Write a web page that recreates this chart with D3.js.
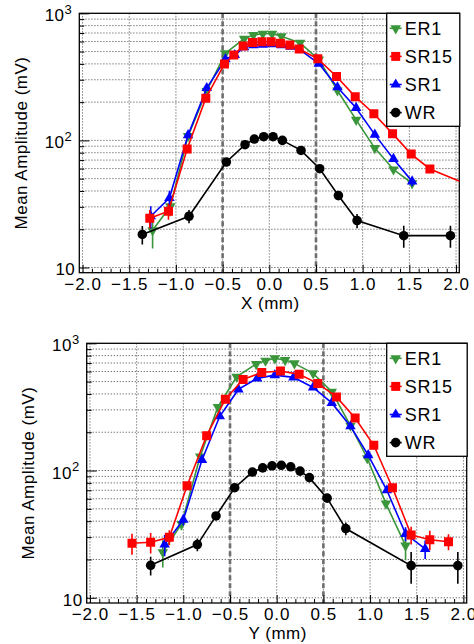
<!DOCTYPE html>
<html>
<head>
<meta charset="utf-8">
<title>Mean amplitude scans</title>
<script src="https://cdn.jsdelivr.net/npm/d3@7/dist/d3.min.js"></script>
<style>
  body { margin: 0; background: #fff; }
  text { font-family: "Liberation Sans", Arial, sans-serif; }
</style>
</head>
<body>
<script>
// ---- X scan (top pad) ----
var topEr1X   = [-1.25, -1.06, -0.87, -0.67, -0.47, -0.27, -0.17, -0.07, 0.03, 0.13, 0.33, 0.53, 0.73, 0.93, 1.13, 1.33, 1.53];
var topEr1Y   = [19.6, 30.3, 108, 245, 485, 630, 675, 690, 690, 660, 585, 432, 247, 145, 87, 59, 46];
var topEr1Err = [5.5, 5, 3, 0, 0, 0, 0, 0, 0, 0, 0, 0, 0, 0, 2, 2, 4];

var topSr15X   = [-1.28, -1.08, -0.88, -0.68, -0.48, -0.38, -0.28, -0.18, -0.08, 0.02, 0.12, 0.22, 0.32, 0.52, 0.72, 0.92, 1.12, 1.32, 1.52, 1.72, 2.12];
var topSr15Y   = [24.4, 27.7, 85.5, 215, 400, 470, 554, 588, 598, 598, 581, 564, 524, 438, 318, 221, 162, 113, 78, 59.6, 45];
var topSr15Err = [4, 4, 4, 0, 0, 0, 0, 0, 0, 0, 0, 0, 0, 0, 0, 0, 0, 0, 3, 3, 3];

var topSr1X   = [-1.27, -1.07, -0.87, -0.67, -0.47, -0.37, -0.27, -0.17, -0.07, 0.03, 0.13, 0.23, 0.33, 0.53, 0.73, 0.93, 1.13, 1.33, 1.53];
var topSr1Y   = [25.3, 35.2, 110, 258, 435, 470, 540, 560, 565, 570, 560, 545, 515, 402, 262, 180, 111, 71.5, 47.6];
var topSr1Err = [5, 5, 3, 0, 0, 0, 0, 0, 0, 0, 0, 0, 0, 0, 0, 0, 0, 2, 4];

var topWrX   = [-1.36, -0.86, -0.46, -0.26, -0.16, -0.06, 0.04, 0.14, 0.34, 0.54, 0.74, 0.94, 1.44, 1.94];
var topWrY   = [18.2, 25.3, 67.6, 92.5, 102.5, 107, 107, 100, 83.4, 59.9, 36.8, 23.4, 17.8, 17.8];
var topWrErr = [3, 3, 0, 0, 0, 0, 0, 0, 0, 0, 3, 3, 3.5, 3.5];

// ---- Y scan (bottom pad) ----
var botEr1X   = [-1.22, -1.02, -0.82, -0.63, -0.43, -0.22, -0.12, -0.02, 0.09, 0.19, 0.39, 0.59, 0.79, 0.97, 1.17, 1.38];
var botEr1Y   = [22.8, 38, 129, 316, 546, 687, 729, 762, 738, 695, 580, 416, 225, 125, 55, 25.7];
var botEr1Err = [5.5, 4, 0, 0, 0, 0, 0, 0, 0, 0, 0, 0, 0, 0, 4, 6];

var botSr15X   = [-1.55, -1.35, -1.15, -0.96, -0.75, -0.55, -0.36, -0.16, 0.04, 0.24, 0.44, 0.64, 0.84, 1.04, 1.24, 1.44, 1.64, 1.84];
var botSr15Y   = [26.8, 27.3, 29.9, 76, 188, 364, 520, 590, 605, 570, 484, 379, 259, 158, 73.3, 31.2, 28.6, 27.6];
var botSr15Err = [5, 5, 4, 0, 0, 0, 0, 0, 0, 0, 0, 0, 0, 0, 0, 5, 5, 4];

var botSr1X   = [-1.2, -1.0, -0.8, -0.61, -0.41, -0.21, -0.02, 0.18, 0.39, 0.59, 0.79, 0.98, 1.18, 1.38, 1.59];
var botSr1Y   = [26.2, 41, 121, 267, 434, 530, 562, 540, 450, 340, 223, 132, 70, 31.8, 24.2];
var botSr1Err = [5, 4, 0, 0, 0, 0, 0, 0, 0, 0, 0, 0, 0, 4, 4];

var botWrX   = [-1.35, -0.85, -0.65, -0.45, -0.26, -0.15, -0.05, 0.05, 0.15, 0.25, 0.35, 0.54, 0.74, 1.44, 1.94];
var botWrY   = [18, 26.2, 44, 73.3, 97.3, 105, 109, 110, 107, 99, 88, 60.7, 35, 17.9, 17.9];
var botWrErr = [3, 3, 0, 0, 0, 0, 0, 0, 0, 0, 0, 0, 4, 5, 5];

// axes
var xMajorTicks = [-2.0, -1.5, -1.0, -0.5, 0.0, 0.5, 1.0, 1.5, 2.0];
var yMajorTicks = [10, 100, 1000];
var cutLines = [-0.5, 0.5];   // dashed markers

var seriesNames  = ["ER1", "SR15", "SR1", "WR"];
var seriesColors = ["#3a963a", "#ff0000", "#0000ff", "#000000"];
var seriesShapes = ["down", "square", "up", "circle"];

var W = 474, H = 644;
var svg = d3.select("body").append("svg")
    .attr("width", W)
    .attr("height", H);

function makeSeries(xs, ys, es) {
  return xs.map(function(d, i) { return {x: d, y: ys[i], e: es[i]}; });
}

function symbolFor(shape) {
  if (shape == "square") return d3.symbol().type(d3.symbolSquare).size(81)();
  if (shape == "circle") return d3.symbol().type(d3.symbolCircle).size(72)();
  return d3.symbol().type(d3.symbolTriangle).size(48)();
}

function drawPanel(p) {
  var x = d3.scaleLinear().domain([-2.035, 2.035]).range([p.left, p.right]);
  var y = d3.scaleLog().domain([9.1, 1000]).range([p.bottom, p.top]);
  var g = svg.append("g");

  g.append("clipPath").attr("id", p.id + "clip")
    .append("rect")
    .attr("x", p.left).attr("y", p.top)
    .attr("width", p.right - p.left).attr("height", p.bottom - p.top);

  // grid
  var yGrid = [];
  [10, 100].forEach(function(dec) {
    for (var k = 1; k <= 9; k++) yGrid.push(dec * k);
  });
  g.selectAll(".hgrid").data(yGrid).enter().append("line")
    .attr("x1", p.left).attr("x2", p.right)
    .attr("y1", function(d) { return y(d); })
    .attr("y2", function(d) { return y(d); })
    .attr("stroke", "#606060").attr("stroke-width", 1)
    .attr("stroke-dasharray", "1.2,1.8");
  g.selectAll(".vgrid").data(xMajorTicks).enter().append("line")
    .attr("x1", function(d) { return x(d); })
    .attr("x2", function(d) { return x(d); })
    .attr("y1", p.top).attr("y2", p.bottom)
    .attr("stroke", "#606060").attr("stroke-width", 1)
    .attr("stroke-dasharray", "1.2,1.8");

  // dashed lines at +-0.5
  g.selectAll(".cut").data(cutLines).enter().append("line")
    .attr("x1", function(d) { return x(d); })
    .attr("x2", function(d) { return x(d); })
    .attr("y1", p.top).attr("y2", p.bottom)
    .attr("stroke", "#6e6e6e").attr("stroke-width", 2.6)
    .attr("stroke-dasharray", "5,3");

  // x axis ticks (inward), major + minor
  var xMinor = d3.range(-20, 21).map(function(i) { return i / 10; })
    .filter(function(v) { return Math.abs(v * 2 - Math.round(v * 2)) > 1e-6; });
  g.append("g")
    .attr("transform", "translate(0," + p.bottom + ")")
    .call(d3.axisBottom(x).tickValues(xMinor).tickSize(-4).tickFormat(""))
    .call(function(a) { a.select(".domain").remove(); });
  var xa = g.append("g")
    .attr("transform", "translate(0," + p.bottom + ")")
    .call(d3.axisBottom(x).tickValues(xMajorTicks).tickSize(-8).tickPadding(5)
          .tickFormat(d3.format(".1f")));
  xa.select(".domain").remove();
  xa.selectAll("text")
    .attr("font-size", 17)
    .attr("fill", "#000")
    .style("letter-spacing", "1px")
    .style("font-family", "'Liberation Sans', Arial, sans-serif");

  // y axis ticks (log)
  g.append("g")
    .attr("transform", "translate(" + p.left + ",0)")
    .call(d3.axisLeft(y).tickValues(yGrid.filter(function(d) { return yMajorTicks.indexOf(d) < 0; }))
          .tickSize(-5).tickFormat(""))
    .call(function(a) { a.select(".domain").remove(); });
  g.append("g")
    .attr("transform", "translate(" + p.left + ",0)")
    .call(d3.axisLeft(y).tickValues(yMajorTicks).tickSize(-10).tickFormat(""))
    .call(function(a) { a.select(".domain").remove(); });

  var yl = g.selectAll(".ylab").data(yMajorTicks).enter().append("text")
    .attr("x", function(d) { return d == 10 ? p.left - 4 : p.left - 7; })
    .attr("y", function(d) { return y(d) + 8; })
    .attr("text-anchor", "end")
    .attr("font-size", 17)
    .style("letter-spacing", "0.5px");
  yl.append("tspan").text("10");
  yl.filter(function(d) { return d > 10; })
    .append("tspan")
    .attr("font-size", 13)
    .attr("dy", -7.5)
    .text(function(d) { return Math.round(Math.log10(d)); });

  // frame
  g.append("rect")
    .attr("x", p.left).attr("y", p.top)
    .attr("width", p.right - p.left).attr("height", p.bottom - p.top)
    .attr("fill", "none").attr("stroke", "#000").attr("stroke-width", 1.3);

  // titles
  g.append("text")
    .attr("x", (p.left + p.right) / 2 + 1)
    .attr("y", p.bottom + 36)
    .attr("text-anchor", "middle")
    .attr("font-size", 17)
    .style("letter-spacing", "0.5px")
    .text(p.xTitle);
  g.append("text")
    .attr("transform", "translate(" + (p.left - 52.5) + "," + ((p.top + p.bottom) / 2) + ") rotate(-90)")
    .attr("text-anchor", "middle")
    .attr("font-size", 17)
    .style("letter-spacing", "0.5px")
    .text("Mean Amplitude (mV)");

  // data
  var plot = g.append("g").attr("clip-path", "url(#" + p.id + "clip)");
  var line = d3.line()
    .x(function(d) { return x(d.x); })
    .y(function(d) { return y(d.y); });

  var drawOrder = [0, 2, 1, 3];
  drawOrder.forEach(function(si) {
    var data = p.series[si];
    var col = seriesColors[si];
    var sg = plot.append("g");
    sg.append("path").datum(data)
      .attr("d", line)
      .attr("fill", "none")
      .attr("stroke", col)
      .attr("stroke-width", 1.6);
    sg.selectAll(".err").data(data.filter(function(d) { return d.e > 0; }))
      .enter().append("line")
      .attr("x1", function(d) { return x(d.x); })
      .attr("x2", function(d) { return x(d.x); })
      .attr("y1", function(d) { return y(d.y - d.e); })
      .attr("y2", function(d) { return y(d.y + d.e); })
      .attr("stroke", col)
      .attr("stroke-width", 1.6);
    sg.selectAll(".mk").data(data).enter().append("path")
      .attr("d", symbolFor(seriesShapes[si]))
      .attr("transform", function(d) {
        return "translate(" + x(d.x) + "," + y(d.y) + ")" +
          (seriesShapes[si] == "down" ? " rotate(180)" : "");
      })
      .attr("fill", col);
  });

  // legend
  var lg = g.append("g");
  var lx0 = 386.7, lx1 = p.right + 0.5, ly0 = p.top, ly1 = p.top + 113;
  lg.append("rect")
    .attr("x", lx0).attr("y", ly0)
    .attr("width", lx1 - lx0).attr("height", ly1 - ly0)
    .attr("fill", "#fff").attr("stroke", "#000").attr("stroke-width", 1.3);
  seriesNames.forEach(function(name, i) {
    var cy = ly0 + 15 + i * 28.1;
    var mx = lx0 + 9;
    lg.append("line")
      .attr("x1", mx - 6).attr("x2", mx + 6)
      .attr("y1", cy).attr("y2", cy)
      .attr("stroke", seriesColors[i]).attr("stroke-width", 1.6);
    lg.append("path")
      .attr("d", symbolFor(seriesShapes[i]))
      .attr("transform", "translate(" + mx + "," + cy + ")" +
            (seriesShapes[i] == "down" ? " rotate(180)" : ""))
      .attr("fill", seriesColors[i]);
    lg.append("text")
      .attr("x", lx0 + 18)
      .attr("y", cy + 6.5)
      .attr("font-size", 18)
      .style("letter-spacing", "0.8px")
      .text(name);
  });
}

drawPanel({
  id: "top", left: 79.3, right: 459.3, top: 13.3, bottom: 272.7,
  xTitle: "X (mm)",
  series: [makeSeries(topEr1X, topEr1Y, topEr1Err),
           makeSeries(topSr15X, topSr15Y, topSr15Err),
           makeSeries(topSr1X, topSr1Y, topSr1Err),
           makeSeries(topWrX, topWrY, topWrErr)]
});

drawPanel({
  id: "bot", left: 86.7, right: 466.7, top: 343.3, bottom: 603,
  xTitle: "Y (mm)",
  series: [makeSeries(botEr1X, botEr1Y, botEr1Err),
           makeSeries(botSr15X, botSr15Y, botSr15Err),
           makeSeries(botSr1X, botSr1Y, botSr1Err),
           makeSeries(botWrX, botWrY, botWrErr)]
});
</script>
</body>
</html>
